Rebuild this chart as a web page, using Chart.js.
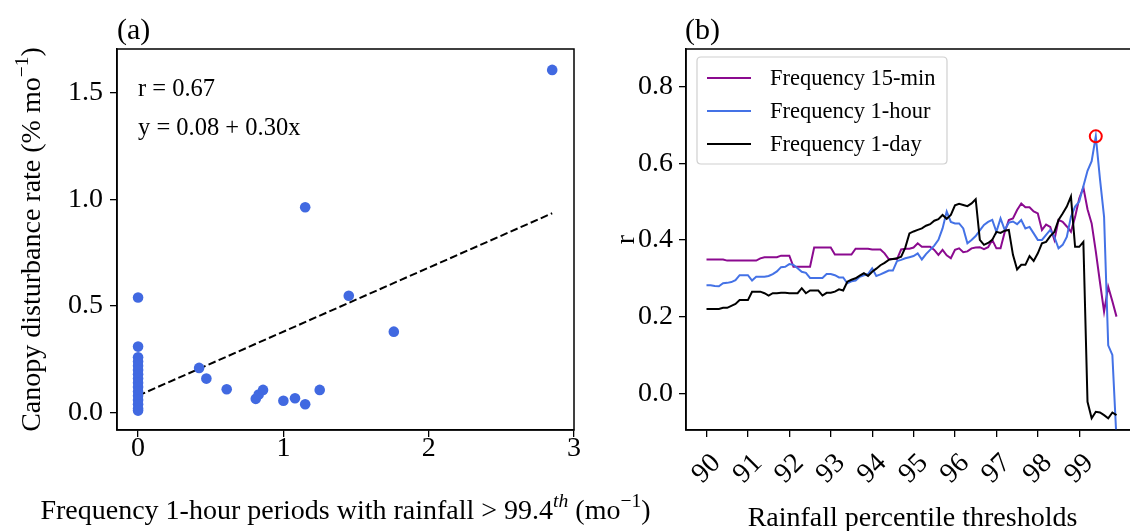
<!DOCTYPE html>
<html><head><meta charset="utf-8">
<script src="https://cdn.jsdelivr.net/npm/chart.js@4"></script>
<style>
html,body{margin:0;padding:0;background:#fff;overflow:hidden;width:1130px;height:531px;position:relative;}
#wa{position:absolute;left:0;top:0;width:660px;height:531px;z-index:2;}
#wb{position:absolute;left:600px;top:0;width:545px;height:531px;z-index:1;}
canvas{display:block;}
</style></head>
<body>
<div id="wb"><canvas id="cb" width="545" height="531"></canvas></div>
<div id="wa"><canvas id="ca" width="660" height="531"></canvas></div>
<script>
// ---------- Panel (a) data ----------
const scatterX = [0,0,0,0,0,0,0,0,0,0,0,0,0,0,0,0,
  0.42,0.47,0.61,0.81,0.83,0.86,1.00,1.08,1.15,1.25,1.45,1.76,1.15,2.85];
const scatterY = [0.54,0.31,0.26,0.24,0.22,0.20,0.18,0.16,0.14,0.12,0.10,0.08,0.06,0.04,0.02,0.01,
  0.21,0.16,0.11,0.065,0.085,0.107,0.056,0.068,0.04,0.107,0.548,0.38,0.963,1.607];
const fitX = [0, 2.85];
const fitY = [0.08, 0.935];
const xTicksA = [0, 1, 2, 3];
const yTicksA = [0.0, 0.5, 1.0, 1.5];
const statR = 'r = 0.67';
const statEq = 'y = 0.08 + 0.30x';

// ---------- Panel (b) data ----------
const thresholds = [
 90.0,90.1,90.2,90.3,90.4,90.5,90.6,90.7,90.8,90.9,
 91.0,91.1,91.2,91.3,91.4,91.5,91.6,91.7,91.8,91.9,
 92.0,92.1,92.2,92.3,92.4,92.5,92.6,92.7,92.8,92.9,
 93.0,93.1,93.2,93.3,93.4,93.5,93.6,93.7,93.8,93.9,
 94.0,94.1,94.2,94.3,94.4,94.5,94.6,94.7,94.8,94.9,
 95.0,95.1,95.2,95.3,95.4,95.5,95.6,95.7,95.8,95.9,
 96.0,96.1,96.2,96.3,96.4,96.5,96.6,96.7,96.8,96.9,
 97.0,97.1,97.2,97.3,97.4,97.5,97.6,97.7,97.8,97.9,
 98.0,98.1,98.2,98.3,98.4,98.5,98.6,98.7,98.8,98.9,
 99.0,99.1,99.2,99.3,99.4,99.5,99.6,99.7,99.8,99.9];
const freq15min = [
 0.349,0.349,0.349,0.349,0.349,0.346,0.346,0.346,0.346,0.346,
 0.346,0.346,0.346,0.352,0.355,0.355,0.355,0.355,0.359,0.359,
 0.359,0.330,0.330,0.330,0.330,0.330,0.380,0.380,0.380,0.380,
 0.380,0.362,0.362,0.362,0.362,0.362,0.377,0.377,0.377,0.377,
 0.375,0.375,0.375,0.365,0.350,0.350,0.350,0.375,0.377,0.377,
 0.380,0.391,0.382,0.382,0.382,0.374,0.361,0.374,0.360,0.352,
 0.374,0.378,0.368,0.370,0.378,0.380,0.381,0.376,0.381,0.400,
 0.378,0.378,0.420,0.452,0.456,0.478,0.495,0.485,0.485,0.474,
 0.469,0.426,0.440,0.434,0.400,0.452,0.447,0.435,0.421,0.460,
 0.508,0.537,0.480,0.443,0.370,0.290,0.213,0.278,0.240,0.200];
const freq1hour = [
 0.282,0.282,0.280,0.279,0.287,0.288,0.290,0.295,0.308,0.308,
 0.308,0.294,0.304,0.304,0.304,0.306,0.311,0.318,0.329,0.330,
 0.337,0.335,0.326,0.317,0.314,0.301,0.301,0.301,0.301,0.311,
 0.311,0.308,0.302,0.302,0.287,0.292,0.294,0.304,0.308,0.311,
 0.326,0.306,0.310,0.315,0.320,0.320,0.345,0.348,0.352,0.355,
 0.358,0.365,0.349,0.363,0.374,0.385,0.400,0.430,0.474,0.447,
 0.443,0.443,0.430,0.391,0.400,0.410,0.425,0.439,0.447,0.452,
 0.421,0.456,0.426,0.445,0.448,0.441,0.452,0.430,0.434,0.417,
 0.400,0.400,0.413,0.426,0.408,0.378,0.387,0.408,0.460,0.487,
 0.500,0.540,0.580,0.605,0.670,0.560,0.460,0.125,0.100,-0.120];
const freq1day = [
 0.220,0.220,0.220,0.220,0.223,0.223,0.228,0.233,0.243,0.243,
 0.243,0.265,0.265,0.265,0.261,0.255,0.261,0.261,0.262,0.262,
 0.261,0.261,0.261,0.274,0.261,0.268,0.268,0.268,0.255,0.262,
 0.262,0.265,0.271,0.268,0.291,0.296,0.300,0.307,0.313,0.306,
 0.317,0.325,0.334,0.340,0.348,0.350,0.352,0.356,0.380,0.417,
 0.422,0.426,0.430,0.437,0.441,0.450,0.454,0.465,0.455,0.465,
 0.490,0.494,0.491,0.488,0.495,0.506,0.400,0.387,0.392,0.400,
 0.421,0.418,0.424,0.426,0.361,0.323,0.335,0.335,0.358,0.345,
 0.365,0.391,0.395,0.410,0.421,0.452,0.469,0.487,0.513,0.382,
 0.382,0.395,-0.022,-0.065,-0.048,-0.050,-0.057,-0.065,-0.050,-0.057];
const peakX = [99.4];
const peakY = [0.67];
const seriesNames = ['Frequency 15-min', 'Frequency 1-hour', 'Frequency 1-day'];
const seriesColors = ['#8b0a8f', '#4472e6', '#000000'];
const xTicksB = [90,91,92,93,94,95,96,97,98,99];
const yTicksB = [0.0,0.2,0.4,0.6,0.8];

// ---------- helpers ----------
const FAM = '"Liberation Serif", "Times New Roman", serif';
const FS_TICK = 28, FS_TITLE = 28, FS_NOTE = 24.5, FS_LEG = 22.5, FS_PANEL = 30;
function segFont(s, size){ return (s.it ? 'italic ' : '') + (s.sup ? size*0.7 : size) + 'px ' + FAM; }
function drawRich(ctx, segs, cx, cy, size, angle){
  ctx.save();
  ctx.translate(cx, cy); ctx.rotate(angle);
  ctx.textBaseline = 'alphabetic'; ctx.textAlign = 'left'; ctx.fillStyle = '#000';
  let w = 0;
  segs.forEach(s => { ctx.font = segFont(s, size); w += ctx.measureText(s.t).width; });
  let x = -w/2;
  segs.forEach(s => {
    ctx.font = segFont(s, size);
    ctx.fillText(s.t, x, s.sup ? -size*0.42 : 0);
    x += ctx.measureText(s.t).width;
  });
  ctx.restore();
}
const xTitleA = [{t:'Frequency 1-hour periods with rainfall > 99.4'},{t:'th',sup:true,it:true},{t:' (mo'},{t:'\u22121',sup:true},{t:')'}];
const yTitleA = [{t:'Canopy disturbance rate (% mo'},{t:'\u22121',sup:true},{t:')'}];
const xTitleB = [{t:'Rainfall percentile thresholds'}];
const yTitleB = [{t:'r'}];

function axisCommon(){
  return {
    grid:{drawOnChartArea:false, drawTicks:true, tickLength:7, color:'#000', lineWidth:1.3},
    border:{display:true, color:'#000', width:1.5},
    ticks:{color:'#000', font:{family:FAM, size:FS_TICK}, autoSkip:false}
  };
}

// ---------- Chart (a) ----------
const frameA = {
  id:'frameA',
  afterDraw(chart){
    const {ctx, chartArea:a} = chart;
    ctx.save();
    ctx.strokeStyle = '#000'; ctx.lineWidth = 1.5;
    ctx.strokeRect(a.left, a.top, a.right-a.left, a.bottom-a.top);
    ctx.fillStyle = '#000'; ctx.textAlign = 'left'; ctx.textBaseline = 'alphabetic';
    ctx.font = FS_PANEL + 'px ' + FAM;
    ctx.fillText('(a)', 117, 39);
    ctx.font = FS_NOTE + 'px ' + FAM;
    ctx.fillText(statR, 138, 96);
    ctx.fillText(statEq, 138, 135);
    ctx.restore();
    drawRich(ctx, xTitleA, 345.5, 519, FS_TITLE, 0);
    drawRich(ctx, yTitleA, 40, 239.5, FS_TITLE, -Math.PI/2);
  }
};
const axA_x = axisCommon();
Object.assign(axA_x, {type:'linear', min:-0.145, max:3.0,
  afterBuildTicks(s){ s.ticks = xTicksA.map(v=>({value:v})); },
  afterFit(s){ s.height = 101; }});
axA_x.ticks.padding = -5;
axA_x.ticks.callback = v => String(v);
const axA_y = axisCommon();
Object.assign(axA_y, {type:'linear', min:-0.081, max:1.705,
  afterBuildTicks(s){ s.ticks = yTicksA.map(v=>({value:v})); },
  afterFit(s){ s.width = 117; }});
axA_y.ticks.padding = 7;
axA_y.ticks.callback = v => Number(v).toFixed(1);

new Chart(document.getElementById('ca'), {
  type:'scatter',
  data:{datasets:[
    {label:'points', data: scatterX.map((x,i)=>({x:x, y:scatterY[i]})),
     backgroundColor:'#4169e1', borderColor:'#4169e1', pointRadius:5.3, pointBorderWidth:0},
    {type:'line', label:'fit', data: fitX.map((x,i)=>({x:x, y:fitY[i]})),
     borderColor:'#000', borderWidth:2, borderDash:[7.7,3.3], pointRadius:0, fill:false, tension:0}
  ]},
  options:{responsive:false, animation:false, devicePixelRatio:1, events:[],
    layout:{padding:{left:0, top:49, right:86, bottom:0}},
    plugins:{legend:{display:false}, tooltip:{enabled:false}},
    scales:{x:axA_x, y:axA_y}},
  plugins:[frameA]
});

// ---------- Chart (b) ----------
const frameB = {
  id:'frameB',
  afterDraw(chart){
    const {ctx, chartArea:a} = chart;
    ctx.save();
    ctx.strokeStyle = '#000'; ctx.lineWidth = 1.5;
    ctx.strokeRect(a.left, a.top, a.right-a.left, a.bottom-a.top);
    // legend
    const lx = 97, ly = 57, lw = 250, lh = 107, r = 4;
    ctx.beginPath();
    ctx.moveTo(lx+r, ly); ctx.lineTo(lx+lw-r, ly); ctx.quadraticCurveTo(lx+lw, ly, lx+lw, ly+r);
    ctx.lineTo(lx+lw, ly+lh-r); ctx.quadraticCurveTo(lx+lw, ly+lh, lx+lw-r, ly+lh);
    ctx.lineTo(lx+r, ly+lh); ctx.quadraticCurveTo(lx, ly+lh, lx, ly+lh-r);
    ctx.lineTo(lx, ly+r); ctx.quadraticCurveTo(lx, ly, lx+r, ly);
    ctx.closePath();
    ctx.fillStyle = 'rgba(255,255,255,0.85)'; ctx.fill();
    ctx.strokeStyle = '#d0d0d0'; ctx.lineWidth = 1.2; ctx.stroke();
    const rows = [78, 111, 144];
    ctx.font = FS_LEG + 'px ' + FAM; ctx.textBaseline = 'middle'; ctx.textAlign = 'left';
    seriesNames.forEach((n,i)=>{
      ctx.strokeStyle = seriesColors[i]; ctx.lineWidth = 2;
      ctx.beginPath(); ctx.moveTo(107, rows[i]); ctx.lineTo(151, rows[i]); ctx.stroke();
      ctx.fillStyle = '#000'; ctx.fillText(n, 170, rows[i]+1);
    });
    ctx.textBaseline = 'alphabetic';
    ctx.font = FS_PANEL + 'px ' + FAM;
    ctx.fillText('(b)', 85, 39);
    ctx.restore();
    drawRich(ctx, xTitleB, 312.5, 526, FS_TITLE, 0);
    drawRich(ctx, yTitleB, 34, 239.5, FS_TITLE, -Math.PI/2);
  }
};
const axB_x = axisCommon();
Object.assign(axB_x, {type:'linear', min:89.505, max:100.395,
  afterBuildTicks(s){ s.ticks = xTicksB.map(v=>({value:v})); },
  afterFit(s){ s.height = 101; }});
axB_x.ticks.minRotation = 45; axB_x.ticks.maxRotation = 45;
axB_x.ticks.labelOffset = 10; axB_x.ticks.padding = 10;
axB_x.ticks.callback = v => String(v);
const axB_y = axisCommon();
Object.assign(axB_y, {type:'linear', min:-0.0956, max:0.8977,
  afterBuildTicks(s){ s.ticks = yTicksB.map(v=>({value:v})); },
  afterFit(s){ s.width = 86; }});
axB_y.ticks.padding = 6;
axB_y.ticks.callback = v => Number(v).toFixed(1);

function lineDs(i, vals){
  return {label:seriesNames[i], data: thresholds.map((t,k)=>({x:t, y:vals[k]})),
    borderColor:seriesColors[i], borderWidth:2, pointRadius:0, fill:false, tension:0, order:3-i};
}
new Chart(document.getElementById('cb'), {
  type:'line',
  data:{datasets:[
    lineDs(0, freq15min), lineDs(1, freq1hour), lineDs(2, freq1day),
    {label:'max r', data: peakX.map((x,i)=>({x:x, y:peakY[i]})), showLine:false,
     pointRadius:6, pointBorderWidth:2, pointBorderColor:'#ff0000', pointBackgroundColor:'rgba(0,0,0,0)', order:0}
  ]},
  options:{responsive:false, animation:false, devicePixelRatio:1, events:[],
    layout:{padding:{left:0, top:49, right:4.5, bottom:0}},
    plugins:{legend:{display:false}, tooltip:{enabled:false}},
    scales:{x:axB_x, y:axB_y}},
  plugins:[frameB]
});
</script>
</body></html>
